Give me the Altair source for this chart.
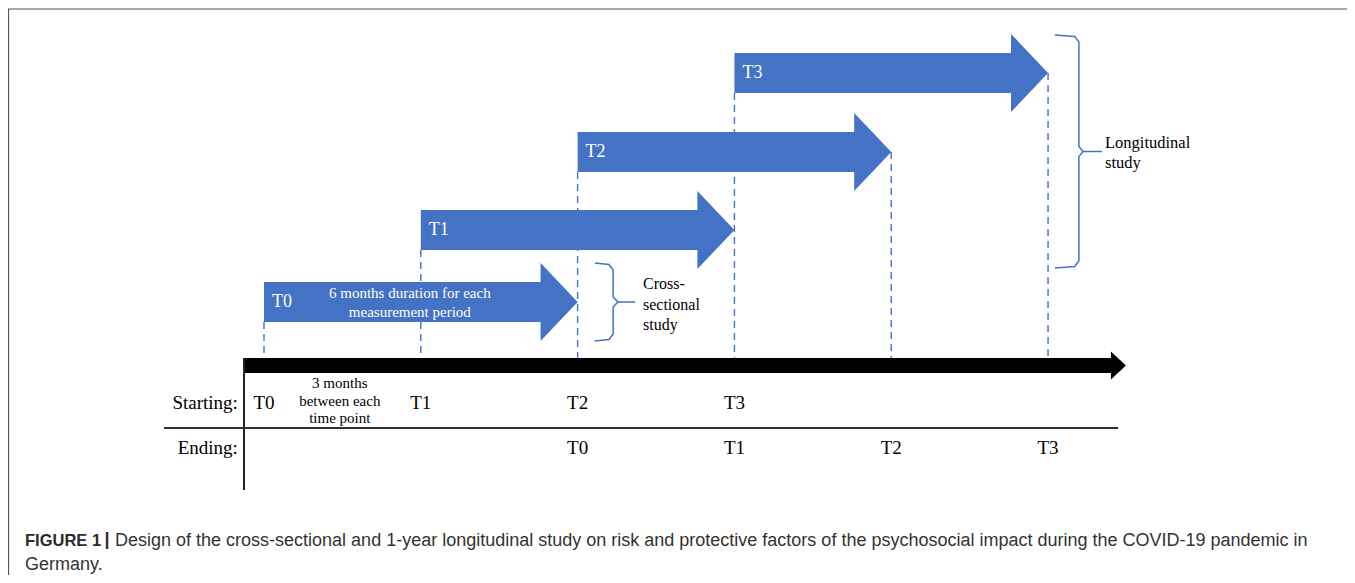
import altair as alt
import pandas as pd

# ---------------- data ----------------
periods = ["T0", "T1", "T2", "T3"]
start_month = [0, 3, 6, 9]          # start of each 6-month measurement period
end_month = [6, 9, 12, 15]          # end of each measurement period
arrow_y = [302, 230, 152, 73]       # vertical layout position of each period arrow

start_labels = ["T0", "T1", "T2", "T3"]
start_label_month = [0, 3, 6, 9]
end_labels = ["T0", "T1", "T2", "T3"]
end_label_month = [6, 9, 12, 15]

row_titles = ["Starting:", "Ending:"]
row_title_y = [403, 448]

gap_text = "3 months\nbetween each\ntime point"
arrow_note = "6 months duration  for each\nmeasurement period"
cross_text = "Cross-\nsectional\nstudy"
long_text = "Longitudinal\nstudy"

caption_bold = "FIGURE 1"
caption_sep = "|"
caption_line1 = ("Design of the cross-sectional and 1-year longitudinal study on risk and protective "
                 "factors of the psychosocial impact during the COVID-19 pandemic in")
caption_line2 = "Germany."

# ---------------- layout / style ----------------
W, H = 1339, 567
PX_PER_MONTH = 52.27
X0_PX = 264
BLUE = "#4472C4"
SERIF = "Liberation Serif"
SANS = "Liberation Sans"

xs = alt.Scale(domain=[(8 - X0_PX) / PX_PER_MONTH, (8 + W - X0_PX) / PX_PER_MONTH], nice=False, zero=False)
ys = alt.Scale(domain=[8, 8 + H], reverse=True, nice=False, zero=False)


def X(f):
    return alt.X(f, type="quantitative", scale=xs, axis=None)


def Y(f):
    return alt.Y(f, type="quantitative", scale=ys, axis=None)


arrows = pd.DataFrame({"period": periods, "start": start_month, "end": end_month, "y": arrow_y})

# one dashed guide per time point, from the highest arrow touching it down to the time axis
tops = {}
for s, e, y in zip(start_month, end_month, arrow_y):
    tops[s] = min(tops.get(s, 1e9), y + 20)
    tops[e] = min(tops.get(e, 1e9), y)
guides = pd.DataFrame({"m": list(tops.keys()), "top": list(tops.values())})
guides["axis_top"] = 362

dash = alt.Chart(guides).mark_rule(color=BLUE, strokeDash=[7, 5], strokeWidth=1.4).encode(
    x=X("m"), y=Y("top"), y2="axis_top")

# block arrows
body = alt.Chart(arrows).mark_rect(color=BLUE, yOffset=-20, y2Offset=20, x2Offset=-36).encode(
    x=X("start"), x2="end", y=Y("y"), y2="y")
head = alt.Chart(arrows).mark_point(shape="M-0.95,-1L0,0L-0.95,1Z", size=78 ** 2, filled=True,
                                    opacity=1, color=BLUE, strokeWidth=0).encode(x=X("end"), y=Y("y"))
arrow_lbl = alt.Chart(arrows).mark_text(align="left", baseline="middle", dx=8, color="white",
                                        font=SERIF, fontSize=18).encode(x=X("start"), y=Y("y"), text="period")

note = alt.Chart(pd.DataFrame({"m": [2.79], "y": [293], "t": [arrow_note]})).mark_text(
    align="center", baseline="middle", color="white", font=SERIF, fontSize=15, lineBreak="\n",
    lineHeight=19).encode(x=X("m"), y=Y("y"), text="t")

# timeline arrow
tl = pd.DataFrame({"a": [-0.383], "b": [16.49], "y": [365.5]})
tl_body = alt.Chart(tl).mark_rect(color="black", yOffset=-7.5, y2Offset=7.5, x2Offset=-14).encode(
    x=X("a"), x2="b", y=Y("y"), y2="y")
tl_head = alt.Chart(tl).mark_point(shape="M-1.07,-1L0,0L-1.07,1Z", size=28 ** 2, filled=True, opacity=1,
                                   color="black", strokeWidth=0).encode(x=X("b"), y=Y("y"))

# table lines
vline = alt.Chart(pd.DataFrame({"x": [-0.383], "y1": [358], "y2": [490]})).mark_rule(
    color="#222", strokeWidth=2).encode(x=X("x"), y=Y("y1"), y2="y2")
hline = alt.Chart(pd.DataFrame({"x1": [-1.913], "x2": [16.34], "y": [428]})).mark_rule(
    color="#333", strokeWidth=2).encode(x=X("x1"), x2="x2", y=Y("y"))

# table texts
titles = alt.Chart(pd.DataFrame({"t": row_titles, "y": row_title_y, "m": [-0.5, -0.5]})).mark_text(
    align="right", baseline="middle", font=SERIF, fontSize=19, color="black").encode(
    x=X("m"), y=Y("y"), text="t")
starts = alt.Chart(pd.DataFrame({"t": start_labels, "m": start_label_month, "y": [403] * 4})).mark_text(
    align="center", baseline="middle", font=SERIF, fontSize=19, color="black").encode(
    x=X("m"), y=Y("y"), text="t")
ends = alt.Chart(pd.DataFrame({"t": end_labels, "m": end_label_month, "y": [448] * 4})).mark_text(
    align="center", baseline="middle", font=SERIF, fontSize=19, color="black").encode(
    x=X("m"), y=Y("y"), text="t")
gap = alt.Chart(pd.DataFrame({"t": [gap_text], "m": [1.45], "y": [383]})).mark_text(
    align="center", baseline="middle", font=SERIF, fontSize=15, lineBreak="\n", lineHeight=17.5,
    color="black").encode(x=X("m"), y=Y("y"), text="t")


# braces
def brace(name, x0, xv, xc, ytop, ybot):
    ym = (ytop + ybot) / 2
    pts = [(x0, ytop), (xv - 0.08, ytop + 1.5), (xv, ytop + 7), (xv, ym - 5), (xc, ym),
           (xv, ym + 5), (xv, ybot - 7), (xv - 0.08, ybot - 1.5), (x0, ybot)]
    return [{"b": name, "i": i, "x": p[0], "y": p[1]} for i, p in enumerate(pts)]


brace_df = pd.DataFrame(brace("cross", 6.33, 6.68, 6.77, 263, 341) +
                        brace("long", 15.13, 15.59, 15.67, 35, 268))
braces = alt.Chart(brace_df).mark_line(color=BLUE, strokeWidth=1.5).encode(
    x=X("x"), y=Y("y"), detail="b:N", order="i:Q")
ticks = alt.Chart(pd.DataFrame({"x1": [6.77, 15.67], "x2": [7.10, 16.03], "y": [302, 151.5]})).mark_rule(
    color=BLUE, strokeWidth=1.5).encode(x=X("x1"), x2="x2", y=Y("y"))
cross_lbl = alt.Chart(pd.DataFrame({"t": [cross_text], "m": [7.25], "y": [284]})).mark_text(
    align="left", baseline="middle", font=SERIF, fontSize=16, lineBreak="\n", lineHeight=20.5,
    color="black").encode(x=X("m"), y=Y("y"), text="t")
long_lbl = alt.Chart(pd.DataFrame({"t": [long_text], "m": [16.09], "y": [143]})).mark_text(
    align="left", baseline="middle", font=SERIF, fontSize=16.5, lineBreak="\n", lineHeight=20,
    color="black").encode(x=X("m"), y=Y("y"), text="t")

# caption & frame
cap_b = alt.Chart(pd.DataFrame({"t": [caption_bold]})).mark_text(
    align="left", baseline="middle", font=SANS, fontSize=16.5, fontWeight="bold", color="#2b2b2b").encode(
    x=alt.value(17), y=alt.value(533), text="t")
cap_s = alt.Chart(pd.DataFrame({"t": [caption_sep]})).mark_text(
    align="center", baseline="middle", font=SANS, fontSize=18, fontWeight="bold", color="#2b2b2b").encode(
    x=alt.value(99), y=alt.value(532), text="t")
cap_1 = alt.Chart(pd.DataFrame({"t": [caption_line1]})).mark_text(
    align="left", baseline="middle", font=SANS, fontSize=18, color="#333333").encode(
    x=alt.value(107), y=alt.value(533), text="t")
cap_2 = alt.Chart(pd.DataFrame({"t": [caption_line2]})).mark_text(
    align="left", baseline="middle", font=SANS, fontSize=18, color="#333333").encode(
    x=alt.value(17), y=alt.value(557), text="t")
frame_top = alt.Chart(pd.DataFrame({"a": [0]})).mark_rule(color="#555", strokeWidth=1.2).encode(
    x=alt.value(0), x2=alt.value(W), y=alt.value(1))
frame_left = alt.Chart(pd.DataFrame({"a": [0]})).mark_rule(color="#555", strokeWidth=1.2).encode(
    x=alt.value(0.5), y=alt.value(1), y2=alt.value(H))

chart = alt.layer(
    frame_top, frame_left,
    dash,
    body, head, arrow_lbl, note,
    tl_body, tl_head, vline, hline,
    titles, starts, ends, gap,
    braces, ticks, cross_lbl, long_lbl,
    cap_b, cap_s, cap_1, cap_2,
).properties(width=W, height=H, padding=0, autosize="none").configure_view(strokeWidth=0)

chart.save("out.html", embed_options={"renderer": "svg", "actions": False})
